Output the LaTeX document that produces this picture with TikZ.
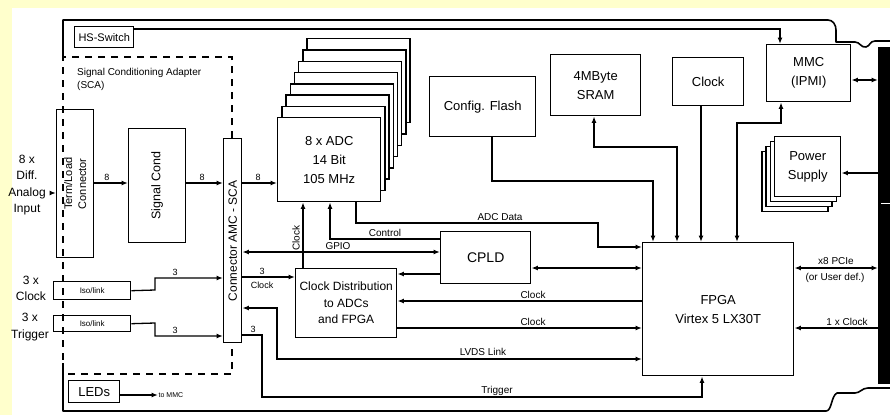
\documentclass[tikz,border=0pt]{standalone}
\usepackage{fontspec}
\setmainfont{Liberation Sans}
\usetikzlibrary{arrows.meta}
\definecolor{bgyel}{RGB}{255,255,204}
\newcommand{\fsz}[2]{\fontsize{#1}{#2}\selectfont}
\begin{document}
\begin{tikzpicture}[x=1pt,y=-1pt,
  box/.style={draw, line width=1.4pt, fill=white, inner sep=1pt, align=center, anchor=north west, font=\fsz{13}{19}},
  lbl/.style={inner sep=0.5pt, font=\fsz{10}{12}},
  num/.style={inner sep=0.5pt, font=\fsz{9}{10}},
  wire/.style={line width=1.3pt},
  arr/.style={wire, -{Latex[length=6.5pt,width=5pt]}},
  biarr/.style={wire, {Latex[length=6.5pt,width=5pt]}-{Latex[length=6.5pt,width=5pt]}},
  scaline/.style={line width=1.3pt, dash pattern=on 7pt off 6pt},
  board/.style={line width=1.6pt, line join=round}]
\fill[bgyel] (0,0) rectangle (890,415);
\fill[white] (12,8) rectangle (890,415);
\useasboundingbox (0,0) rectangle (890,415);

% board outline
\draw[board] (63,57) -- (63,20) -- (828,20) to[out=0,in=90] (836,30) -- (836,42) -- (855,42)
  .. controls (860,42) and (861,48) .. (866,47) .. controls (870,46) and (870,41) .. (875,41) -- (890,41);
\draw[board] (63,363) -- (63,411) -- (826,411) .. controls (832,411) and (831,396) .. (837,393) -- (855,393)
  .. controls (860,393) and (862,388) .. (868,388) -- (890,388);
\node[fill=black, inner sep=0, minimum width=12pt, minimum height=337pt, anchor=north west] (bar) at (878,47) {};
\draw[white, line width=1pt] (881,203) -- (890,203);

% boxes
\node[box, minimum width=59pt, minimum height=21pt, font=\fsz{11}{12}] (hs) at (74,26) {HS-Switch};
\node[box, minimum width=37pt, minimum height=148pt] (term) at (56,109) {};
\node[rotate=90, align=center, font=\fsz{11}{14}] (termtxt) at (term.center) {Term/Load\\Connector};
\node[box, minimum width=57pt, minimum height=114pt] (cond) at (128,128) {};
\node[rotate=90, font=\fsz{12.5}{14}] (condtxt) at (cond.center) {Signal Cond};
\node[box, minimum width=18pt, minimum height=204pt] (conn) at (223,138) {};
\node[rotate=90, font=\fsz{12}{13}] (conntxt) at (conn.center) {Connector AMC - SCA};
\node[box, minimum width=77pt, minimum height=18pt, font=\fsz{8}{9}] (iso1) at (53,281) {Iso/link};
\node[box, minimum width=77pt, minimum height=16pt, font=\fsz{8}{9}] (iso2) at (53,315) {Iso/link};
\node[box, minimum width=51pt, minimum height=22pt, font=\fsz{13}{14}] (leds) at (68,380) {LEDs};

% ADC stack
\foreach \k in {7,6,...,1}
  \node[box, minimum width=103pt, minimum height=84pt] (adcb\k) at ({277+4.2*\k},{117-11.3*\k}) {};
\node[box, minimum width=103pt, minimum height=84pt] (adc) at (277,117) {8 x ADC\\14 Bit\\105 MHz};

\node[box, minimum width=106pt, minimum height=60pt] (flash) at (429,76) {Config. Flash};
\node[box, minimum width=90pt, minimum height=61pt] (sram) at (550,54) {4MByte\\SRAM};
\node[box, minimum width=71pt, minimum height=48pt] (clk) at (672,57) {Clock};
\node[box, minimum width=84pt, minimum height=57pt] (mmc) at (766,44) {MMC\\(IPMI)};

% power supply stack
\foreach \k in {3,2,1}
  \node[box, minimum width=66pt, minimum height=60pt] (psb\k) at ({774-4.3*\k},{136+5*\k}) {};
\node[box, minimum width=66pt, minimum height=60pt] (ps) at (774,136) {Power\\Supply};

\node[box, minimum width=90pt, minimum height=52pt, font=\fsz{14}{16}] (cpld) at (440,231) {CPLD};
\node[box, minimum width=101pt, minimum height=69pt, font=\fsz{12}{16.5}] (cdist) at (295,268) {Clock Distribution\\to ADCs\\and FPGA};
\node[box, minimum width=151pt, minimum height=133pt] (fpga) at (642,242) {FPGA\\Virtex 5 LX30T};

% SCA dashed outline
\draw[scaline] (conn.north -| 232,0) -- (232,57) -- (63,57) -- (63,374) -- (232,374) -- (conn.south -| 232,0);

% texts
\node[align=left, anchor=north west, inner sep=0, font=\fsz{10}{13}] (scatxt) at (77,68) {Signal Conditioning Adapter\\(SCA)};
\node[align=center, font=\fsz{12}{16.5}] (intxt) at (27,185) {8 x\\Diff.\\Analog\\Input};
\node[align=center, font=\fsz{12}{16}] (clkin) at (31,288) {3 x\\Clock};
\node[align=center, font=\fsz{12}{17}] (trgin) at (30,327) {3 x\\Trigger};

% input side connections
\draw[arr] (51,193) -- (term.west |- 0,193);
\draw[arr] (term.east |- 0,183) -- (cond.west |- 0,183);
\node[num] (n1) at (107,177) {8};
\draw[arr] (cond.east |- 0,183) -- (conn.west |- 0,183);
\node[num] (n2) at (202,177) {8};
\draw[arr] (conn.east |- 0,183) -- (adc.west |- 0,183);
\node[num] (n3) at (258,177) {8};
\draw[arr] (iso1.east) -- (155,290) |- (conn.west |- 0,278);
\node[num] (n4) at (175,272) {3};
\draw[arr] (iso2.east) -- (155,323) |- (conn.west |- 0,336);
\node[num] (n5) at (175,330) {3};
\draw[arr] (leds.east |- 0,395) -- (158,395);
\node[anchor=west, inner sep=0.5pt, font=\fsz{7}{8}] (tommc) at (158,395) {to MMC};

% connector to board
\draw[arr] (conn.east |- 0,277) -- (cdist.west |- 0,277);
\node[num] (n6) at (262,271) {3};
\node[lbl, font=\fsz{9}{10}] (clk3) at (262,285) {Clock};
\draw[biarr] (conn.east |- 0,252) -- (cpld.west |- 0,252);
\node[lbl] (gpio) at (338,246) {GPIO};
\draw[arr] (cpld.west |- 0,239) -| (adc.south -| 330,0);
\node[lbl] (ctrl) at (385,233) {Control};
\draw[arr] (cdist.north -| 303,0) -- (adc.south -| 303,0);
\node[lbl, rotate=90] (adcclk) at (296,238) {Clock};
\draw[arr] (adc.south -| 356,0) |- (598,223) |- (fpga.west |- 0,247);
\node[lbl] (adcdata) at (500,217) {ADC Data};
\draw[arr] (cpld.west |- 0,274) -- (cdist.east |- 0,274);
\draw[biarr] (cpld.east |- 0,268) -- (fpga.west |- 0,268);
\draw[arr] (fpga.west |- 0,301) -- (cdist.east |- 0,301);
\node[lbl] (clka) at (533,295) {Clock};
\draw[arr] (cdist.east |- 0,328) -- (fpga.west |- 0,328);
\node[lbl] (clkb) at (533,322) {Clock};
\draw[biarr] (conn.east |- 0,308) -| (277,359) -- (fpga.west |- 0,359);
\node[lbl] (lvds) at (483,352) {LVDS Link};
\draw[arr] (conn.east |- 0,335) -| (262,397) -| (fpga.south -| 702,0);
\node[num] (n7) at (253,329) {3};
\node[lbl] (trg) at (497,391) {Trigger};

% top connections
\draw[arr] (flash.south -| 492,0) |- (653,181) -- (fpga.north -| 653,0);
\draw[biarr] (sram.south -| 594,0) |- (677,147) -- (fpga.north -| 677,0);
\draw[arr] (clk.south -| 701,0) -- (fpga.north -| 701,0);
\draw[biarr] (mmc.south -| 781,0) |- (737,123) -- (fpga.north -| 737,0);
\draw[arr] (hs.east |- 0,29) -| (mmc.north -| 780,0);

% backplane side
\draw[biarr] (mmc.east |- 0,80) -- (bar.west |- 0,80);
\draw[arr] (bar.west |- 0,173) -- (ps.east |- 0,173);
\draw[biarr] (fpga.east |- 0,268) -- (bar.west |- 0,268);
\node[lbl] (pcie) at (836,261) {x8 PCIe};
\node[lbl] (pcie2) at (835,278) {(or User def.)};
\draw[arr] (bar.west |- 0,328) -- (fpga.east |- 0,328);
\node[lbl] (oneclk) at (847,322) {1 x Clock};
\end{tikzpicture}
\end{document}
